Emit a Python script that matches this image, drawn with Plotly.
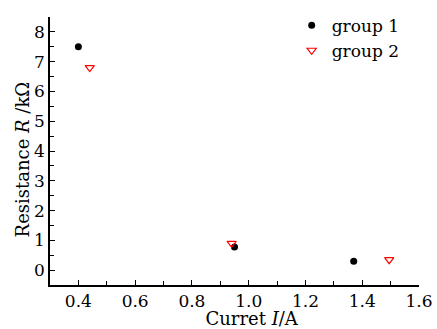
import plotly.graph_objects as go

g1_x = [0.40, 0.95, 1.37]
g1_y = [7.50, 0.78, 0.30]
g2_x = [0.44, 0.94, 1.495]
g2_y = [6.80, 0.90, 0.35]

font = "DejaVu Serif"
NB = "&#160;"
fig = go.Figure()
fig.add_trace(go.Scatter(x=g1_x, y=g1_y, mode="markers", name="group 1",
                         marker=dict(symbol="circle", size=7, color="black")))
fig.add_trace(go.Scatter(x=g2_x, y=g2_y, mode="markers", name="group 2",
                         marker=dict(symbol="triangle-down-open", size=8, color="red",
                                     line=dict(width=1.2, color="red"))))

axcommon = dict(showline=True, linecolor="black", linewidth=1.5, mirror=False,
                showgrid=False, zeroline=False, ticks="inside", ticklen=5,
                tickwidth=1, tickcolor="black", automargin=False,
                tickfont=dict(family=font, size=17, color="black"))
fig.update_layout(
    width=437, height=329,
    margin=dict(l=50, r=18, t=8, b=44),
    plot_bgcolor="white", paper_bgcolor="white",
    font=dict(family=font, color="black"),
    xaxis=dict(range=[0.3, 1.6], dtick=0.2, tick0=0.4, tickformat=".1f",
               minor=dict(dtick=0.1, ticks="inside", ticklen=4, tickcolor="black", tick0=0.3),
               title=dict(text=NB * 6 + "Curret <i>I</i>/A", font=dict(family=font, size=18), standoff=6),
               **axcommon),
    yaxis=dict(range=[-0.5, 8.5], dtick=1, tick0=0,
               minor=dict(dtick=0.5, ticks="inside", ticklen=4, tickcolor="black", tick0=0),
               title=dict(text="Resistance <i>R</i> /kΩ" + NB * 3, font=dict(family=font, size=18), standoff=0),
               **axcommon),
    legend=dict(x=0.655, y=1.035, xanchor="left", yanchor="top",
                font=dict(family=font, size=17), bgcolor="rgba(0,0,0,0)",
                itemwidth=30, tracegroupgap=0),
    showlegend=True,
)
fig.write_html("out.html", post_script="document.body.style.margin='0';",
               config={"displayModeBar": False})
